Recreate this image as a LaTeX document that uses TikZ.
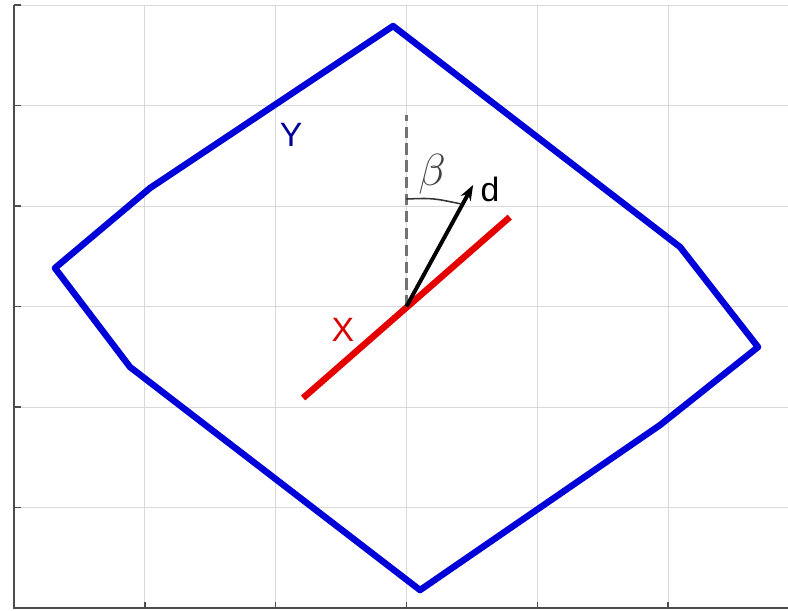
\RequirePackage{fix-cm}
\documentclass[tikz,border=0pt]{standalone}
\usepackage{fontspec}
\setmainfont{Liberation Sans}
\usetikzlibrary{arrows.meta}

\begin{document}
\begin{tikzpicture}[x=3.27cm, y=2.5125cm, >=Stealth,
    gridline/.style={draw=black!15, line width=0.5pt},
    axisline/.style={draw=black!70, line width=1pt},
    regionY/.style={draw=blue!85!black, line width=4.6pt, line join=round},
    segX/.style={draw=red!90!black, line width=4.6pt},
    lbl/.style={font=\fontsize{24}{28}\selectfont, inner sep=0pt}]
    % one unit = one grid cell; origin at the lower left corner of the axes
    \useasboundingbox (-0.107, -0.02) rectangle (5.917, 6.05);

    % --- Grid and axes ---
    \draw[gridline, xstep=1, ystep=1] (0, 0) grid (5.917, 6);
    \draw[axisline] (0, 6) -- (0, 0) -- (5.917, 0);
    % left ticks
    \draw[axisline] (0, 1) -- (0.05, 1);
    \draw[axisline] (0, 2) -- (0.05, 2);
    \draw[axisline] (0, 3) -- (0.05, 3);
    \draw[axisline] (0, 4) -- (0.05, 4);
    \draw[axisline] (0, 5) -- (0.05, 5);
    \draw[axisline] (0, 6) -- (0.05, 6);
    % bottom ticks
    \draw[axisline] (1, 0) -- (1, 0.06);
    \draw[axisline] (2, 0) -- (2, 0.06);
    \draw[axisline] (3, 0) -- (3, 0.06);
    \draw[axisline] (4, 0) -- (4, 0.06);
    \draw[axisline] (5, 0) -- (5, 0.06);

    % --- Polygon Y ---
    \draw[regionY] (2.898, 5.791) -- (5.092, 3.592) -- (5.688, 2.597)
        -- (4.939, 1.821) -- (3.104, 0.179) -- (0.887, 2.398)
        -- (0.313, 3.383) -- (1.040, 4.179) -- cycle;

    % --- Segment X and direction d ---
    \coordinate (o) at (3, 3);
    \coordinate (xlow) at (2.21, 2.09);
    \coordinate (xhigh) at (3.79, 3.89);
    \coordinate (dtip) at (3.51, 4.21);
    \coordinate (vtop) at (3, 4.905);

    \draw[segX] (xlow) -- (xhigh);
    \draw[black!55, line width=1.6pt, dash pattern=on 8pt off 4pt] (o) -- (vtop);
    \draw[-{Stealth[length=11pt, width=8pt]}, line width=2.8pt] (o) -- (dtip);
    % angle beta
    \draw[line width=1.1pt, black!80] (3, 4.07) .. controls (3.2, 4.08) .. (3.42, 4.02);

    % --- Labels ---
    \node[lbl, text=blue!60!black] (labY) at (2.118, 4.706) {Y};
    \node[lbl, text=red!85!black] (labX) at (2.515, 2.766) {X};
    \node[lbl] (labd) at (3.639, 4.17) {d};
    \node[lbl, text=black!75, font=\fontsize{32}{36}\selectfont] (labbeta) at (3.196, 4.32) {$\beta$};

\end{tikzpicture}
\end{document}
